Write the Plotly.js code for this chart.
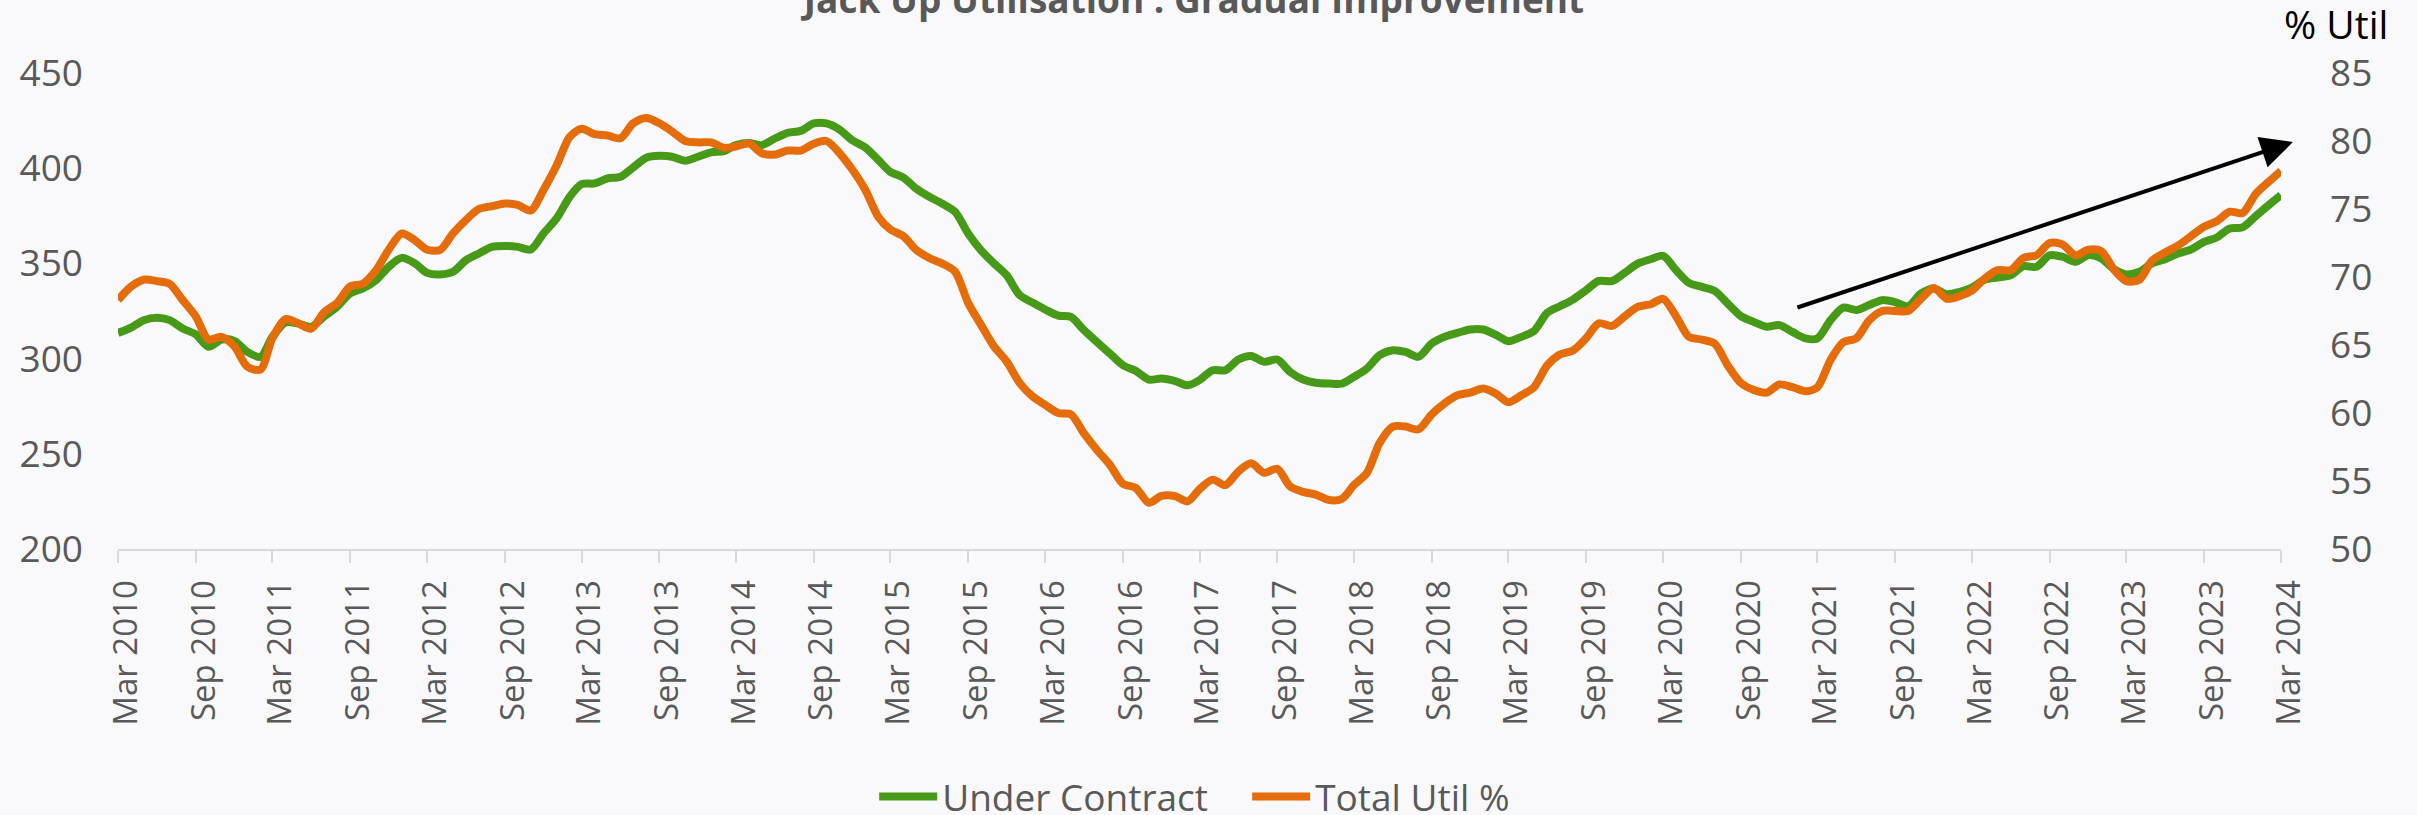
<!DOCTYPE html>
<html>
<head>
<meta charset="utf-8">
<script src="https://cdn.plot.ly/plotly-3.0.1.min.js"></script>
<style>
  html, body { margin: 0; padding: 0; background: #f9f9fb; }
  #chart { width: 2417px; height: 815px; }
</style>
</head>
<body>
<div id="chart"></div>
<script>
// ---- Data (monthly, Mar 2010 .. Mar 2024) ----
const startYear = 2010;
const startMonth = 3; // March
const seriesNames = ["Under Contract", "Total Util %"];

// Under Contract (rig count, left axis)
const underContract = [
  313.5, 316.3, 320.2, 321.4, 320.2, 315.8, 312.7, 306.2, 310.0, 309.3,
  303.5, 300.9, 311.4, 319.0, 318.4, 316.7, 322.0, 327.2, 334.2, 336.8, 341.2, 348.2,
  352.9, 350.0, 345.0, 344.2, 345.6, 351.7, 355.2, 358.7, 359.2, 358.7, 357.3, 365.7,
  373.6, 385.0, 391.6, 392.0, 394.6, 395.5, 400.4, 405.5, 406.5, 406.0, 403.9, 406.0,
  408.3, 409.0, 412.1, 413.3, 412.1, 415.6, 418.6, 419.6, 423.5, 423.5, 420.3, 414.7,
  410.9, 404.2, 398.1, 395.1, 389.3, 385.0, 381.5, 377.1, 365.7, 357.0, 350.0, 343.8,
  333.3, 329.3, 325.8, 322.6, 321.9, 314.9, 308.8, 302.7, 296.5, 293.6, 289.0, 289.5,
  288.3, 286.0, 288.7, 293.9, 293.9, 299.5, 301.4, 298.3, 299.5, 293.0, 289.0, 287.3,
  286.9, 286.9, 290.4, 294.8, 301.8, 304.4, 303.5, 301.0, 307.9, 311.4, 313.5, 315.3,
  315.3, 312.3, 309.1, 311.4, 314.6, 324.0, 327.5, 331.0, 335.9, 340.8, 340.7, 345.0,
  349.9, 352.2, 354.0, 346.4, 339.8, 337.7, 335.6, 328.9, 322.3, 319.3, 316.7, 317.6,
  314.0, 310.6, 310.6, 320.2, 326.8, 325.5, 328.1, 330.7, 329.6, 327.5, 334.2, 336.8,
  333.8, 335.1, 337.3, 341.5, 342.6, 343.8, 348.5, 348.2, 354.3, 353.5, 350.8, 354.3,
  352.6, 346.8, 344.2, 345.6, 350.0, 352.2, 355.2, 357.3, 361.3, 363.6, 368.3, 368.9,
  374.8, 380.6, 385.8
];

// Total utilisation % (right axis)
const totalUtil = [
  68.3, 69.3, 69.8, 69.7, 69.5, 68.3, 67.1, 65.4, 65.6, 64.9,
  63.4, 63.2, 65.5, 66.9, 66.6, 66.2, 67.4, 68.1, 69.3, 69.5, 70.5, 72.0,
  73.2, 72.7, 72.0, 72.0, 73.2, 74.2, 75.0, 75.2, 75.4, 75.3, 74.9, 76.4,
  78.2, 80.3, 80.9, 80.5, 80.4, 80.2, 81.3, 81.7, 81.3, 80.7, 80.0, 79.9,
  79.9, 79.5, 79.6, 79.8, 79.1, 79.0, 79.3, 79.3, 79.8, 80.0, 79.1, 77.9,
  76.4, 74.4, 73.5, 73.0, 72.0, 71.4, 71.0, 70.4, 68.1, 66.5, 64.9, 63.8,
  62.2, 61.2, 60.6, 60.0, 59.9, 58.5, 57.3, 56.2, 54.8, 54.5, 53.4, 53.9,
  53.9, 53.5, 54.4, 55.1, 54.7, 55.7, 56.3, 55.6, 55.9, 54.6, 54.2, 54.0,
  53.6, 53.7, 54.7, 55.6, 57.8, 59.0, 59.0, 58.8, 59.9, 60.7, 61.3, 61.5,
  61.8, 61.4, 60.8, 61.3, 61.9, 63.5, 64.3, 64.6, 65.5, 66.6, 66.4, 67.1,
  67.8, 68.0, 68.4, 67.1, 65.6, 65.4, 65.1, 63.5, 62.2, 61.7, 61.5, 62.1,
  61.9, 61.6, 61.9, 63.9, 65.2, 65.5, 66.8, 67.5, 67.5, 67.5, 68.4, 69.2,
  68.4, 68.6, 69.0, 69.9, 70.5, 70.5, 71.4, 71.6, 72.5, 72.4, 71.6, 72.0,
  71.9, 70.5, 69.7, 69.8, 71.2, 71.8, 72.3, 73.0, 73.7, 74.1, 74.8, 74.7,
  76.1, 77.0, 77.8
];

// Axis ranges / tick labels
const leftRange = [200, 450];
const rightRange = [50, 85];
const leftTicks = [200, 250, 300, 350, 400, 450];
const rightTicks = [50, 55, 60, 65, 70, 75, 80, 85];
const titleText = "Jack Up Utilisation : Gradual Improvement";
const rightAxisTitle = "% Util";

// Build month categories (one per data value)
function pad(n) { return (n < 10 ? "0" : "") + n; }
const months = underContract.map(function (_, i) {
  const t = (startMonth - 1) + i;
  const y = startYear + Math.floor(t / 12);
  const m = (t % 12) + 1;
  return y + "-" + pad(m) + "-01";
});

const monNames = ["Jan","Feb","Mar","Apr","May","Jun","Jul","Aug","Sep","Oct","Nov","Dec"];
const tickVals = months.filter(function (d, i) { return i % 6 === 0; });
const tickText = tickVals.map(function (d) {
  return monNames[parseInt(d.slice(5, 7), 10) - 1] + " " + d.slice(0, 4);
});

const FONT = "Open Sans, Noto Sans, sans-serif";
const GREY = "#595959";

const traces = [
  {
    x: months, y: underContract, name: seriesNames[0], type: "scatter", mode: "lines",
    line: { color: "#479a17", width: 8, shape: "spline", smoothing: 0.8 },
    yaxis: "y", hoverinfo: "skip"
  },
  {
    x: months, y: totalUtil, name: seriesNames[1], type: "scatter", mode: "lines",
    line: { color: "#e46c0a", width: 8, shape: "spline", smoothing: 0.8 },
    yaxis: "y2", hoverinfo: "skip"
  }
];

const layout = {
  width: 2417, height: 815,
  paper_bgcolor: "#f9f9fb", plot_bgcolor: "#f9f9fb",
  margin: { l: 118, r: 136, t: 73, b: 266, pad: 0 },
  font: { family: FONT, color: GREY, size: 37 },
  title: {
    text: "<b>" + titleText + "</b>",
    font: { family: FONT, size: 37, color: GREY },
    x: 0.494, xanchor: "center", xref: "container",
    y: 1.0, yanchor: "middle", yref: "container"
  },
  showlegend: true,
  legend: {
    orientation: "h", x: 0.516, xanchor: "center", xref: "container",
    y: 0.022, yanchor: "middle", yref: "container",
    font: { family: FONT, size: 37, color: GREY },
    itemwidth: 58, entrywidth: 300, entrywidthmode: "pixels",
    bgcolor: "rgba(0,0,0,0)", tracegroupgap: 0
  },
  xaxis: {
    type: "date",
    range: [months[0], months[months.length - 1]],
    tickmode: "array", tickvals: tickVals, ticktext: tickText,
    tickangle: -90, tickfont: { family: FONT, size: 33, color: GREY },
    showgrid: false, zeroline: false,
    showline: true, linecolor: "#d9d9d9", linewidth: 2,
    ticks: "outside", ticklen: 12, tickwidth: 2, tickcolor: "#d9d9d9",
    ticklabelstandoff: 4, ticklabelshift: 8
  },
  yaxis: {
    range: leftRange, tickmode: "array", tickvals: leftTicks,
    showgrid: false, zeroline: false, showline: false, ticks: "",
    tickfont: { family: FONT, size: 37, color: GREY },
    ticklabelstandoff: 34
  },
  yaxis2: {
    range: rightRange, tickmode: "array", tickvals: rightTicks,
    overlaying: "y", side: "right",
    showgrid: false, zeroline: false, showline: false, ticks: "",
    tickfont: { family: FONT, size: 37, color: GREY },
    ticklabelstandoff: 48
  },
  annotations: [
    {
      text: rightAxisTitle, showarrow: false,
      xref: "paper", yref: "paper", x: 1.0255, y: 1.105,
      xanchor: "center", yanchor: "middle",
      font: { family: FONT, size: 39, color: "#000000" }
    },
    {
      text: "", showarrow: true,
      xref: "paper", yref: "paper", x: 1.0055, y: 0.855,
      axref: "pixel", ayref: "pixel", ax: -497, ay: 166,
      arrowhead: 2, arrowsize: 1.6, arrowwidth: 4, arrowcolor: "#000000",
      standoff: 0, startstandoff: 0
    }
  ]
};

Plotly.newPlot("chart", traces, layout, { staticPlot: true, displayModeBar: false });
</script>
</body>
</html>
